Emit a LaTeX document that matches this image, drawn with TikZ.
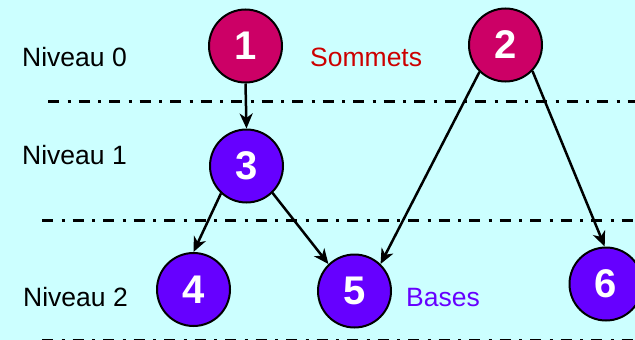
\documentclass[tikz,border=0pt]{standalone}
\usepackage{fontspec}
\setmainfont{Liberation Sans}
\usetikzlibrary{arrows.meta}
\definecolor{bgcyan}{HTML}{CCFFFF}
\definecolor{topcol}{HTML}{CC0066}
\definecolor{basecol}{HTML}{6600FF}
\definecolor{labred}{HTML}{CC0000}
\tikzset{
  vertex/.style={circle, draw=black, line width=2pt, minimum size=73pt, inner sep=0pt,
    text=white, font=\fontsize{40}{40}\selectfont\bfseries},
  topv/.style={vertex, fill=topcol},
  basev/.style={vertex, fill=basecol},
  level/.style={anchor=base west, inner sep=0pt, font=\fontsize{26.5}{26.5}\selectfont},
  edge/.style={line width=2.5pt, -{Stealth[length=15pt,width=13pt,inset=4.5pt]}},
  sep/.style={line width=3pt, dash pattern=on 11pt off 8.5pt on 3pt off 8pt}
}
\begin{document}
\begin{tikzpicture}[x=1pt, y=-1pt]
  \fill[bgcyan] (0,0) rectangle (635,340);
  \useasboundingbox (0,0) rectangle (635,340);

  % separators between levels
  \draw[sep] (48,101) -- (640,101);
  \draw[sep] (42,220) -- (640,220);
  \draw[sep] (42,340.5) -- (640,340.5);

  % level labels
  \node[level] (l0) at (22,66.7) {Niveau 0};
  \node[level] (l1) at (22,164.5) {Niveau 1};
  \node[level] (l2) at (23,306.7) {Niveau 2};
  \node[level, text=labred] (som) at (310,66.7) {Sommets};
  \node[level, text=basecol] (bas) at (406,306.7) {Bases};

  % vertices
  \node[topv] (n1) at (245.5,46) {1};
  \node[topv] (n2) at (505.5,45) {2};
  \node[basev] (n3) at (246.5,166) {3};
  \node[basev] (n4) at (193.5,289.5) {4};
  \node[basev] (n5) at (354.5,291) {5};
  \node[basev] (n6) at (606,284) {6};

  % arcs
  \draw[edge] (n1.south) -- (n3.north);
  \draw[edge] (n3.227) -- (n4.90);
  \draw[edge] (n3.314) -- (n5.134);
  \draw[edge] (n2.226) -- (n5.46);
  \draw[edge] (n2.316) -- (n6.92);
\end{tikzpicture}
\end{document}
